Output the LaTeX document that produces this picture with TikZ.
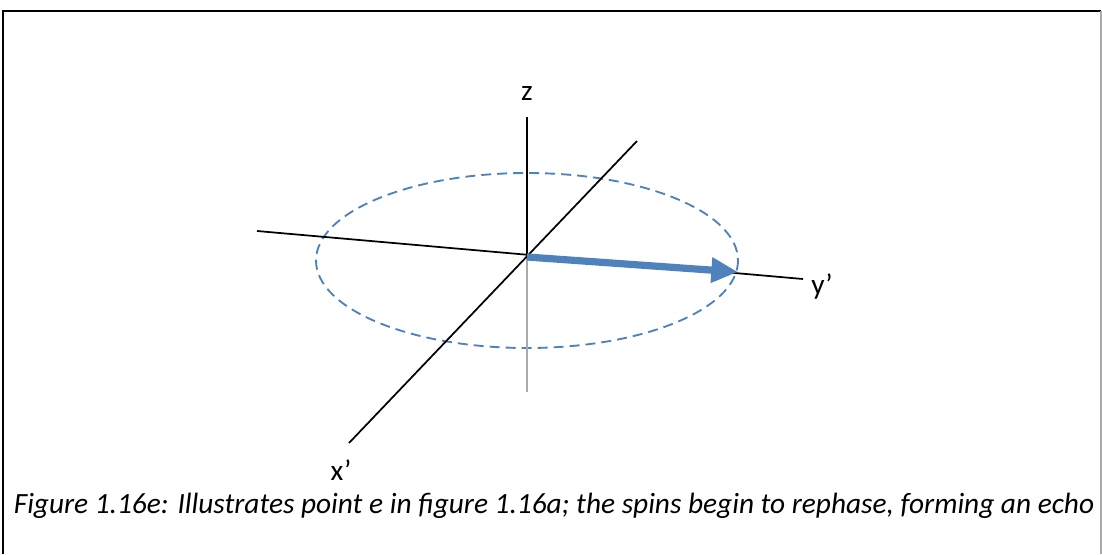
\documentclass[tikz,border=0pt]{standalone}
\usepackage{fontspec}
\setmainfont{Carlito}
\usetikzlibrary{arrows.meta}
\definecolor{axblue}{RGB}{79,129,189}
\definecolor{lgray}{RGB}{170,170,170}
\tikzset{
  axis/.style={black, line width=1.3pt},
  lbl/.style={font=\fontsize{22}{26}\selectfont, inner sep=0pt},
  ring/.style={axblue, line width=1.4pt, dash pattern=on 7.5pt off 4.5pt},
  vec/.style={axblue, line width=5.4pt, -{Triangle[length=20pt,width=18pt]}}
}
\begin{document}
\begin{tikzpicture}[x=0.75pt,y=-0.75pt]
\useasboundingbox (0,0) rectangle (1102,554);
% frame
\draw[black, line width=1.6pt] (3,554) -- (3,11) -- (1101,11);
\draw[lgray, line width=1pt] (1101,11) -- (1101,554);
% coordinates
\coordinate (O) at (527,255);
\coordinate (ztop) at (527,117);
\coordinate (zbot) at (527,392);
\coordinate (yl) at (257,231);
\coordinate (yr) at (803,279);
\coordinate (xu) at (637,141);
\coordinate (xd) at (349,443);
\coordinate (tip) at (738,272);
\coordinate (tail) at (527,257);
% ellipse
\draw[ring] (527,260.5) ellipse [x radius=211, y radius=87.5];
% axes
\draw[lgray, line width=1.4pt] (O) -- (zbot);
\draw[axis] (O) -- (ztop);
\draw[axis] (yl) -- (yr);
\draw[axis] (xu) -- (xd);
% vector
\draw[vec] (tail) -- (tip);
% labels
\node[lbl] (zl) at (527,93) {z};
\node[lbl] (ylab) at (822,287) {y’};
\node[lbl] (xlab) at (341,470) {x’};
\node[lbl] (cap) at (554,506) {\itshape Figure 1.16e: Illustrates point e in figure 1.16a; the spins begin to rephase, forming an echo};
\end{tikzpicture}
\end{document}
